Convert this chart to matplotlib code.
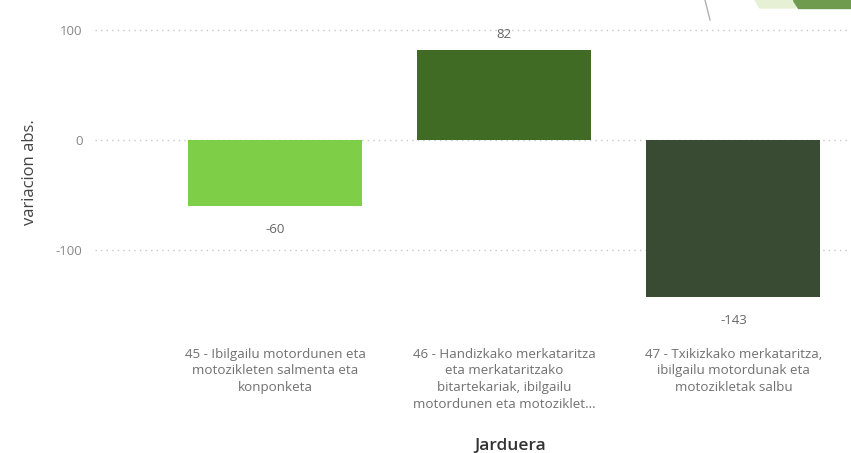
import matplotlib.pyplot as plt
from matplotlib.patches import Polygon
from matplotlib.lines import Line2D

# data
kategoriak = [
    "45 - Ibilgailu motordunen eta\nmotozikleten salmenta eta\nkonponketa",
    "46 - Handizkako merkataritza\neta merkataritzako\nbitartekariak, ibilgailu\nmotordunen eta motoziklet...",
    "47 - Txikizkako merkataritza,\nibilgailu motordunak eta\nmotozikletak salbu",
]
balioak = [-60, 82, -143]
koloreak = ["#7ecf47", "#3f6b24", "#3a4b34"]
y_ticks = [-100, 0, 100]

plt.rcParams['font.family'] = ['Open Sans', 'DejaVu Sans']

W, H = 851, 453
fig = plt.figure(figsize=(W / 100, H / 100), dpi=100)

# axes in pixel coords: left 95, right 848, top 20, bottom 338
l, r, t, b = 95, 848, 20, 338
ax = fig.add_axes([l / W, 1 - b / H, (r - l) / W, (b - t) / H])

x = range(len(balioak))
ax.bar(x, balioak, width=0.76, color=koloreak, zorder=2)

# y axis: 0 at pixel 140, 1.1 px per unit
px = 1.1
ax.set_ylim(-(b - 140) / px, (140 - t) / px)
ax.set_xlim(-0.785, 2.5)

ax.set_yticks(y_ticks)
ax.set_yticklabels([str(v) for v in y_ticks], color="#888888", fontsize=9.5)
ax.tick_params(axis='y', length=0, pad=9)
ax.grid(axis='y', color="#c8c8c8", linestyle=(0, (1, 3)), linewidth=1, zorder=0)

ax.set_xticks(list(x))
ax.set_xticklabels(kategoriak, color="#707070", fontsize=9.6, linespacing=1.36)
ax.tick_params(axis='x', length=0, pad=7)

for s in ax.spines.values():
    s.set_visible(False)

# value labels
for i, v in enumerate(balioak):
    if v >= 0:
        ax.text(i, v + 14, str(v), ha='center', va='center', color="#666666", fontsize=9.5)
    else:
        ax.text(i, v - 21, str(v), ha='center', va='center', color="#666666", fontsize=9.5,
                clip_on=False)

ax.set_ylabel("variacion abs.", color="#444444", fontsize=12)
ax.yaxis.set_label_coords(-57 / (r - l), 1 - (172 - t) / (b - t))
fig.text(510 / W, 1 - 446 / H, "Jarduera", ha='center', va='center',
         color="#333333", fontsize=12.5, fontweight='semibold')

# decoration cut at the top right corner
fig.add_artist(Line2D([705 / W, 710 / W], [1, 1 - 20 / H], color="#b0b0b0", lw=1))
fig.add_artist(Polygon([[755 / W, 1], [800 / W, 1], [795 / W, 1 - 8 / H], [760 / W, 1 - 8 / H]],
                       closed=True, color="#e6f0d4", transform=fig.transFigure))
fig.add_artist(Polygon([[793 / W, 1], [851 / W, 1], [851 / W, 1 - 8 / H], [798 / W, 1 - 8 / H]],
                       closed=True, color="#6f9b4f", transform=fig.transFigure))

fig.savefig("out.png", dpi=100)
